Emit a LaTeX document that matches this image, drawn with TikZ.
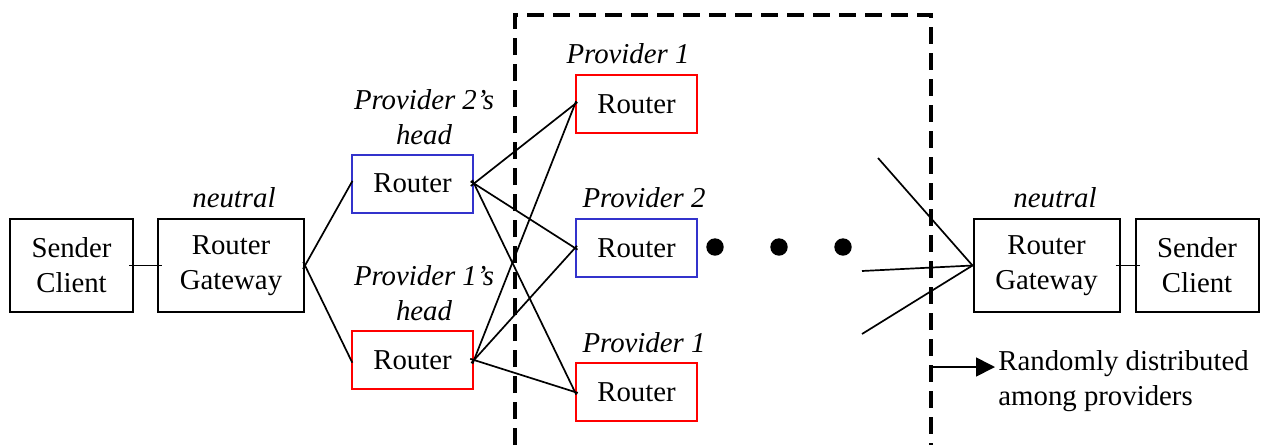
\documentclass[tikz,border=0pt]{standalone}
\usepackage{fontspec}
\setmainfont{Liberation Serif}
\usetikzlibrary{arrows.meta}
\definecolor{routerred}{RGB}{255,0,0}
\definecolor{routerblue}{RGB}{51,51,204}
\begin{document}
\begin{tikzpicture}[x=0.5pt,y=-0.5pt,
  every node/.style={font=\fontsize{14.4}{17.5}\selectfont},
  endbox/.style={draw=black,line width=1pt,minimum width=61.5pt,minimum height=46.5pt,align=center,inner sep=0pt},
  gatebox/.style={draw=black,line width=1pt,minimum width=73pt,minimum height=46.5pt,align=center,inner sep=0pt},
  routerbox/.style={line width=1pt,minimum width=60.5pt,minimum height=29pt,inner sep=0pt},
  role/.style={font=\fontsize{14.4}{17.5}\selectfont\itshape,inner sep=0pt,align=center},
  link/.style={line width=0.85pt,shorten <=-2pt,shorten >=-1.5pt},
  stub/.style={line width=0.85pt,shorten <=-2.5pt,shorten >=-2.5pt},
  frame/.style={line width=2pt,dash pattern=on 8.5pt off 4.5pt},
  dot/.style={circle,fill=black,minimum size=8.7pt,inner sep=0pt}]
\useasboundingbox (0,0) rectangle (1263,445);

% end hosts and gateways
\node[endbox]  (sc1) at (71.5,265.5)   {Sender\\Client};
\node[gatebox] (gw1) at (231,265.5)    {Router\\Gateway};
\node[gatebox] (gw2) at (1046.5,265.5) {Router\\Gateway};
\node[endbox]  (sc2) at (1197,265.5)   {Sender\\Client};

% provider routers
\node[routerbox,draw=routerblue] (h2) at (412.5,183.5) {Router};
\node[routerbox,draw=routerred]  (h1) at (412.5,360)   {Router};
\node[routerbox,draw=routerred]  (r1) at (636.5,104)   {Router};
\node[routerbox,draw=routerblue] (r2) at (636.5,248)   {Router};
\node[routerbox,draw=routerred]  (r3) at (636.5,392)   {Router};

% role labels
\node[role,anchor=base] (ln1) at (234,207)  {neutral};
\node[role,anchor=base] (ln2) at (1055,207) {neutral};
\node[role,anchor=south] (lh2) at (424,145) {Provider 2’s\\head};
\node[role,anchor=south] (lh1) at (424,321) {Provider 1’s\\head};
\node[role,anchor=base] (lr1) at (628,63)  {Provider 1};
\node[role,anchor=base] (lr2) at (644,207) {Provider 2};
\node[role,anchor=base] (lr3) at (644,352) {Provider 1};

% dots
\node[dot] (d1) at (715,247) {};
\node[dot] (d2) at (779,247) {};
\node[dot] (d3) at (843,247) {};

% connections
\draw[stub] (sc1) -- (gw1);
\draw[stub] (gw2) -- (sc2);
\draw[link] (gw1.east) -- (h2.west);
\draw[link] (gw1.east) -- (h1.west);
\foreach \h in {h2,h1}{
  \foreach \r in {r1,r2,r3}{
    \draw[link] (\h.east) -- (\r.west);
  }
}
\coordinate (f1) at (878,158);
\coordinate (f2) at (862,271);
\coordinate (f3) at (862,334);
\foreach \f in {f1,f2,f3}{
  \draw[line width=0.85pt] (\f) -- (gw2.west);
}

% dashed provider region
\coordinate (dbl) at (515,445);
\coordinate (dtl) at (515,15);
\coordinate (dtr) at (931,15);
\coordinate (dbr) at (931,445);
\draw[frame] (dbl) -- (dtl) -- (dtr) -- (dbr);

% legend arrow
\coordinate (a0) at (932,367);
\coordinate (a1) at (995,367);
\draw[line width=0.85pt,-{Triangle[length=9.5pt,width=9.5pt]}] (a0) -- (a1);
\node[anchor=base west,inner sep=0pt,align=left] (rnd) at (998,405) {Randomly distributed\\among providers};
\end{tikzpicture}
\end{document}
